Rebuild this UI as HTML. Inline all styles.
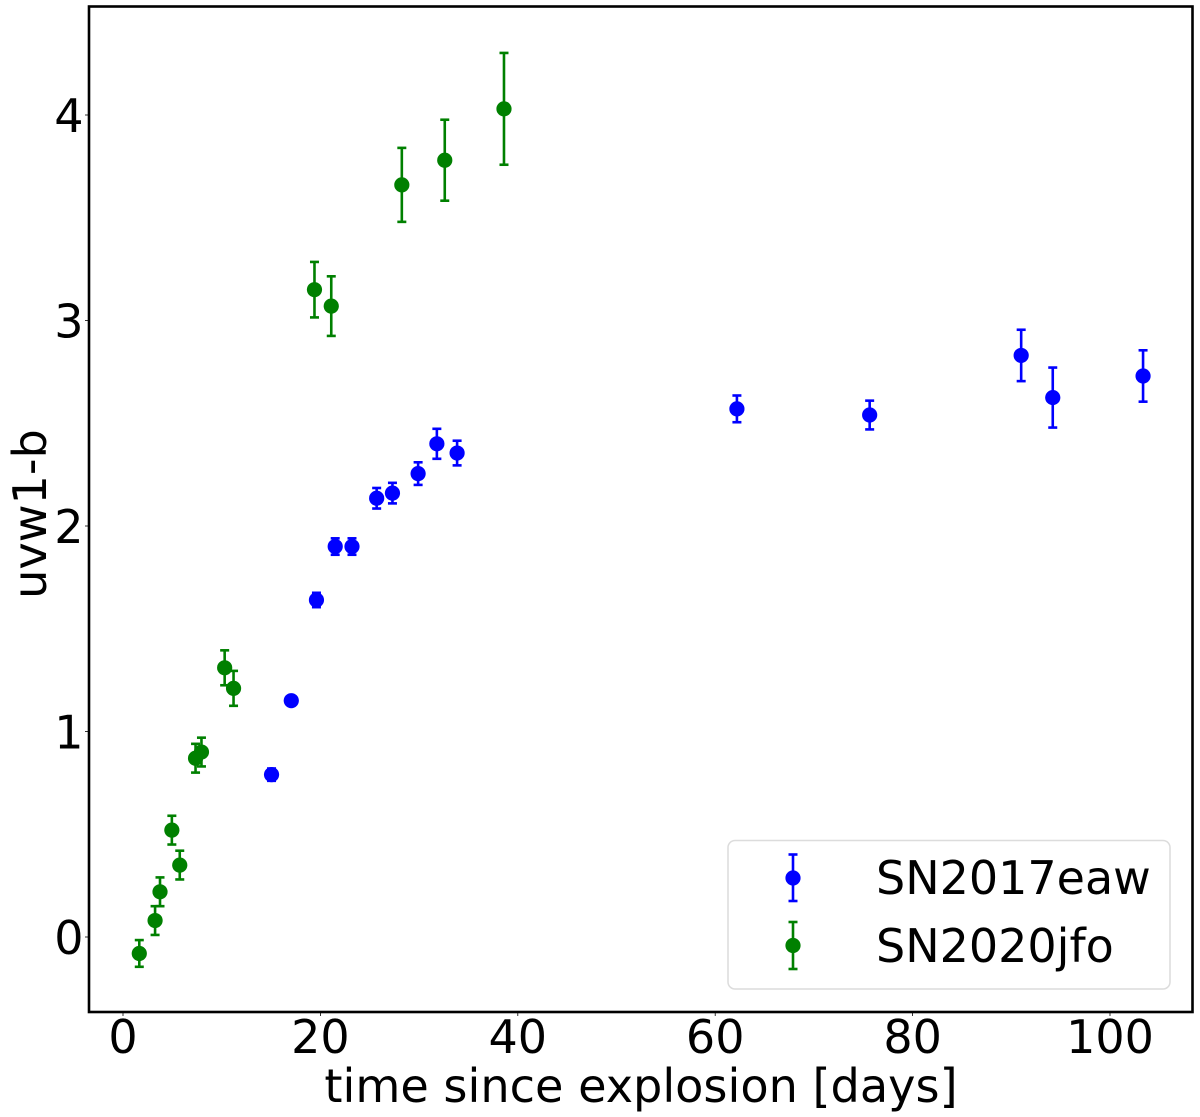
<!DOCTYPE html>
<html lang="en">
<head>
<meta charset="utf-8">
<title>uvw1-b colour evolution</title>
<style>
html,body{margin:0;padding:0;background:#fff;}
svg{display:block;}
text{font-family:"DejaVu Sans","Liberation Sans",sans-serif;fill:#000;}
</style>
</head>
<body>
<svg id="chart" xmlns="http://www.w3.org/2000/svg" width="1200" height="1117" viewBox="0 0 1200 1117">
<rect x="0" y="0" width="1200" height="1117" fill="#fff"/>
<g id="marks"></g>
<g id="axes"></g>
<rect x="89" y="6.5" width="1103.5" height="1005.5" fill="none" stroke="#000" stroke-width="2.6"/>
<text x="641" y="1102" font-size="46.2" text-anchor="middle">time since explosion [days]</text>
<text transform="translate(46,514) rotate(-90)" font-size="46.2" text-anchor="middle">uvw1-b</text>
<g>
<rect x="728" y="840.5" width="442" height="148.5" rx="7" ry="7" fill="#fff" fill-opacity="0.8" stroke="#dcdcdc" stroke-width="1.5"/>
<g id="legend-keys"></g>
<text x="876" y="894" font-size="46">SN2017eaw</text>
<text x="876" y="962" font-size="46">SN2020jfo</text>
</g>
</svg>
<script>
var xTicks = [0, 20, 40, 60, 80, 100];
var yTicks = [0, 1, 2, 3, 4];
var eawDays = [15.05, 17.05, 19.6, 21.5, 23.2, 25.7, 27.3, 29.9, 31.8, 33.85, 62.2, 75.65, 91.0, 94.2, 103.35];
var eawColor = [0.79, 1.15, 1.64, 1.90, 1.90, 2.135, 2.16, 2.255, 2.40, 2.355, 2.57, 2.54, 2.83, 2.625, 2.73];
var eawError = [0.03, 0.02, 0.035, 0.04, 0.04, 0.05, 0.05, 0.055, 0.073, 0.06, 0.065, 0.07, 0.125, 0.146, 0.125];
var jfoDays = [1.65, 3.25, 3.75, 4.95, 5.75, 7.35, 7.95, 10.3, 11.2, 19.4, 21.1, 28.25, 32.6, 38.6];
var jfoColor = [-0.08, 0.08, 0.22, 0.52, 0.35, 0.87, 0.90, 1.31, 1.21, 3.15, 3.07, 3.66, 3.78, 4.03];
var jfoError = [0.065, 0.07, 0.07, 0.07, 0.07, 0.07, 0.07, 0.085, 0.085, 0.135, 0.145, 0.18, 0.197, 0.272];

var NS = 'http://www.w3.org/2000/svg';
function xScale(v) { return 123 + v * 9.87; }
function yScale(v) { return 937 - v * 205.5; }

function shape(parent, tag, attrs) {
  var el = document.createElementNS(NS, tag);
  for (var k in attrs) { el.setAttribute(k, attrs[k]); }
  parent.appendChild(el);
  return el;
}

function drawPoint(parent, cx, cy, up, down, color, lw, name) {
  var g = document.createElementNS(NS, 'g');
  
  
  parent.appendChild(g);
  var stem = shape(g, 'line', {x1: cx, x2: cx, y1: up, y2: down, stroke: color, 'stroke-width': lw});
  
  
  var capTop = shape(g, 'line', {x1: cx - 4.5, x2: cx + 4.5, y1: up, y2: up, stroke: color, 'stroke-width': 2.6});
  
  
  var capBottom = shape(g, 'line', {x1: cx - 4.5, x2: cx + 4.5, y1: down, y2: down, stroke: color, 'stroke-width': 2.6});
  
  
  var dot = shape(g, 'circle', {cx: cx, cy: cy, r: 7.6, fill: color});
  
  
}

function drawSeries(days, color, err, stroke, lw, name) {
  var layer = document.getElementById('marks');
  for (var i = 0; i < days.length; i++) {
    drawPoint(layer, xScale(days[i]), yScale(color[i]), yScale(color[i] + err[i]), yScale(color[i] - err[i]), stroke, lw, name + '-point-' + (i + 1));
  }
}

drawSeries(eawDays, eawColor, eawError, '#0000ff', 2.6, 'sn2017eaw');
drawSeries(jfoDays, jfoColor, jfoError, '#008000', 2.6, 'sn2020jfo');

var keys = document.getElementById('legend-keys');
drawPoint(keys, 793, 878, 854.5, 901, '#0000ff', 2.6, 'legend-key-sn2017eaw');
drawPoint(keys, 793, 945.5, 922, 969, '#008000', 2.6, 'legend-key-sn2020jfo');

var axes = document.getElementById('axes');
xTicks.forEach(function (t) {
  var mark = shape(axes, 'line', {x1: xScale(t), x2: xScale(t), y1: 1012, y2: 1016, stroke: '#000', 'stroke-width': 0.8});
  
  
  var label = shape(axes, 'text', {x: xScale(t), y: 1053, 'font-size': 46, 'text-anchor': 'middle'});
  
  
  label.textContent = t;
});
yTicks.forEach(function (t) {
  var mark = shape(axes, 'line', {x1: 85, x2: 89, y1: yScale(t), y2: yScale(t), stroke: '#000', 'stroke-width': 0.8});
  
  
  var label = shape(axes, 'text', {x: 83.5, y: yScale(t) + 17, 'font-size': 46, 'text-anchor': 'end'});
  
  
  label.textContent = t;
});
</script>
</body>
</html>
